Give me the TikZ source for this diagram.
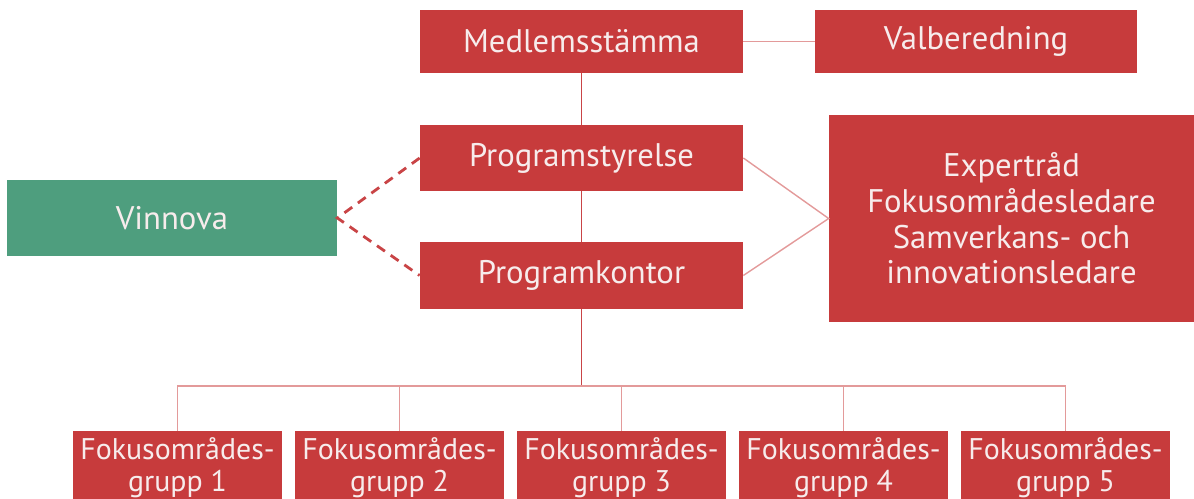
\documentclass[tikz,border=0pt]{standalone}
\usepackage{fontspec}
\setmainfont{PT Sans}
\definecolor{boxred}{HTML}{C73B3C}
\definecolor{boxgreen}{HTML}{4E9E7E}
\definecolor{linered}{HTML}{E39A9A}
\definecolor{darkline}{HTML}{C94446}
\definecolor{txt}{HTML}{F7ECEC}
\begin{document}
\begin{tikzpicture}[x=0.02cm,y=-0.02cm,
  box/.style 2 args={draw=none,fill=boxred,text=txt,minimum width=#1*0.02cm,minimum height=#2*0.02cm,inner sep=0pt,align=center,font=\fontsize{18.6}{20}\selectfont},
  conn/.style={draw=linered,line width=0.8pt},
  stem/.style={draw=darkline,line width=0.8pt}]
\useasboundingbox (0,0) rectangle (1194,499);
\begin{scope}
\clip (0,0) rectangle (1194,499);
\node[box={323}{63}] (med) at (581.5,41.5) {Medlemsstämma};
\node[box={322}{63}] (val) at (976,41.5) {Valberedning};
\node[box={323}{66}] (ps) at (581.5,158) {Programstyrelse};
\node[box={323}{67}] (pk) at (581.5,275.5) {Programkontor};
\node[box={330}{76},fill=boxgreen] (vin) at (172,218) {Vinnova};
\node[box={365}{207},font=\fontsize{18.6}{20.3}\selectfont] (exp) at (1011.5,218.5) {Expertråd\\Fokusområdesledare\\Samverkans- och\\innovationsledare};
\foreach \i/\xx in {1/177.5,2/399.5,3/621.5,4/843.5,5/1065.5}{
  \node[box={209}{74},font=\fontsize{17}{18.2}\selectfont] (fg\i) at (\xx,468) {Fokusområdes-\\grupp \i};
}
\coordinate (bus) at (581.5,386);
\draw[conn] (med) -- (val);
\draw[stem] (med) -- (ps);
\draw[stem] (ps) -- (pk);
\draw[stem] (pk) -- (bus);
\foreach \i in {1,...,5}{\draw[conn] (fg\i.north) |- (bus);}
\draw[conn] (ps.east) -- (exp.west) -- (pk.east);
\draw[draw=darkline,line width=1.6pt,dash pattern=on 5.5pt off 4pt] (ps.west) -- (vin.east) -- (pk.west);
\end{scope}
\end{tikzpicture}
\end{document}
